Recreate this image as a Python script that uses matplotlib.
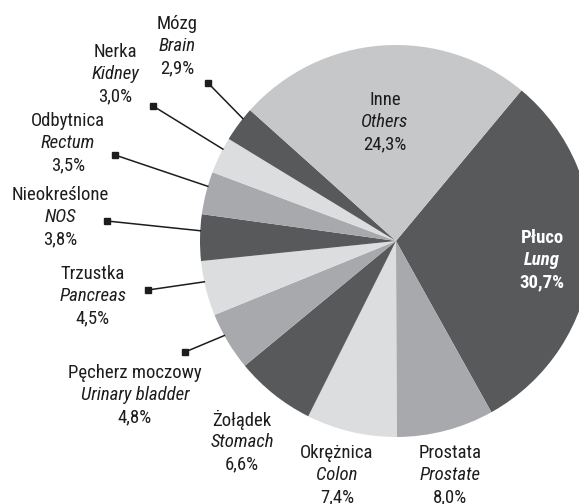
import matplotlib
matplotlib.use('Agg')
import matplotlib.pyplot as plt
import numpy as np

plt.rcParams['font.family'] = ['Roboto Condensed', 'Liberation Sans Narrow', 'Roboto', 'DejaVu Sans']

# data, clockwise from the Lung slice
names_pl = ['Płuco', 'Prostata', 'Okrężnica', 'Żołądek', 'Pęcherz moczowy', 'Trzustka',
            'Nieokreślone', 'Odbytnica', 'Nerka', 'Mózg', 'Inne']
names_en = ['Lung', 'Prostate', 'Colon', 'Stomach', 'Urinary bladder', 'Pancreas',
            'NOS', 'Rectum', 'Kidney', 'Brain', 'Others']
shares = [30.7, 8.0, 7.4, 6.6, 4.8, 4.5, 3.8, 3.5, 3.0, 2.9, 24.3]

DARK, MID, LIGHT, OTHER = '#58595b', '#a7a9ac', '#dcdddf', '#c6c7c9'
colors = [DARK, MID, LIGHT, DARK, MID, LIGHT, DARK, MID, LIGHT, DARK, OTHER]

W, H = 579, 504
cx, cy, R = 396, 241, 196

# label block centres (pixels, top-left origin) and leader marker positions
label_pos = {
    'Lung': (542, 260), 'Prostate': (450, 475), 'Colon': (337, 475),
    'Stomach': (242, 442), 'Urinary bladder': (135, 395), 'Pancreas': (93, 296),
    'NOS': (60, 217), 'Rectum': (68, 143), 'Kidney': (115, 74),
    'Brain': (177, 46), 'Others': (385, 122),
}
marker_pos = {
    'Urinary bladder': (185, 352), 'Pancreas': (148, 290), 'NOS': (107, 221),
    'Rectum': (115, 155), 'Kidney': (153, 106), 'Brain': (208, 83),
}


def Y(y):
    return H - y


fig = plt.figure(figsize=(W / 100, H / 100), dpi=100)
ax = fig.add_axes([0, 0, 1, 1])
ax.set_xlim(0, W)
ax.set_ylim(0, H)
ax.set_aspect('equal')
ax.axis('off')

wedges, _ = ax.pie(shares, colors=colors, startangle=50.2, counterclock=False,
                   center=(cx, Y(cy)), radius=R, wedgeprops=dict(linewidth=0))
ax.set_xlim(0, W)
ax.set_ylim(0, H)

fs = 13.5
ink = '#1e1c1d'
for w, pl, en, pct in zip(wedges, names_pl, names_en, shares):
    x, y = label_pos[en]
    txt_col = 'white' if en == 'Lung' else ink
    weight = 'bold' if en == 'Lung' else 'normal'
    pct_txt = ('%.1f%%' % pct).replace('.', ',')
    ax.text(x, Y(y - 22), pl, ha='center', va='center', fontsize=fs, color=txt_col, weight=weight)
    ax.text(x, Y(y), en, ha='center', va='center', fontsize=fs, color=txt_col, weight=weight,
            style='italic')
    ax.text(x, Y(y + 22), pct_txt, ha='center', va='center', fontsize=fs, color=txt_col,
            weight=weight)
    if en in marker_pos:
        mx, my = marker_pos[en]
        ang = np.deg2rad((w.theta1 + w.theta2) / 2 - 2)
        ex = cx + R * np.cos(ang)
        ey = Y(cy) + R * np.sin(ang)
        ax.plot([mx, ex], [Y(my), ey], color=ink, lw=1.1)
        ax.plot(mx, Y(my), marker='s', ms=4, color=ink)

fig.savefig('out.png', dpi=100)
